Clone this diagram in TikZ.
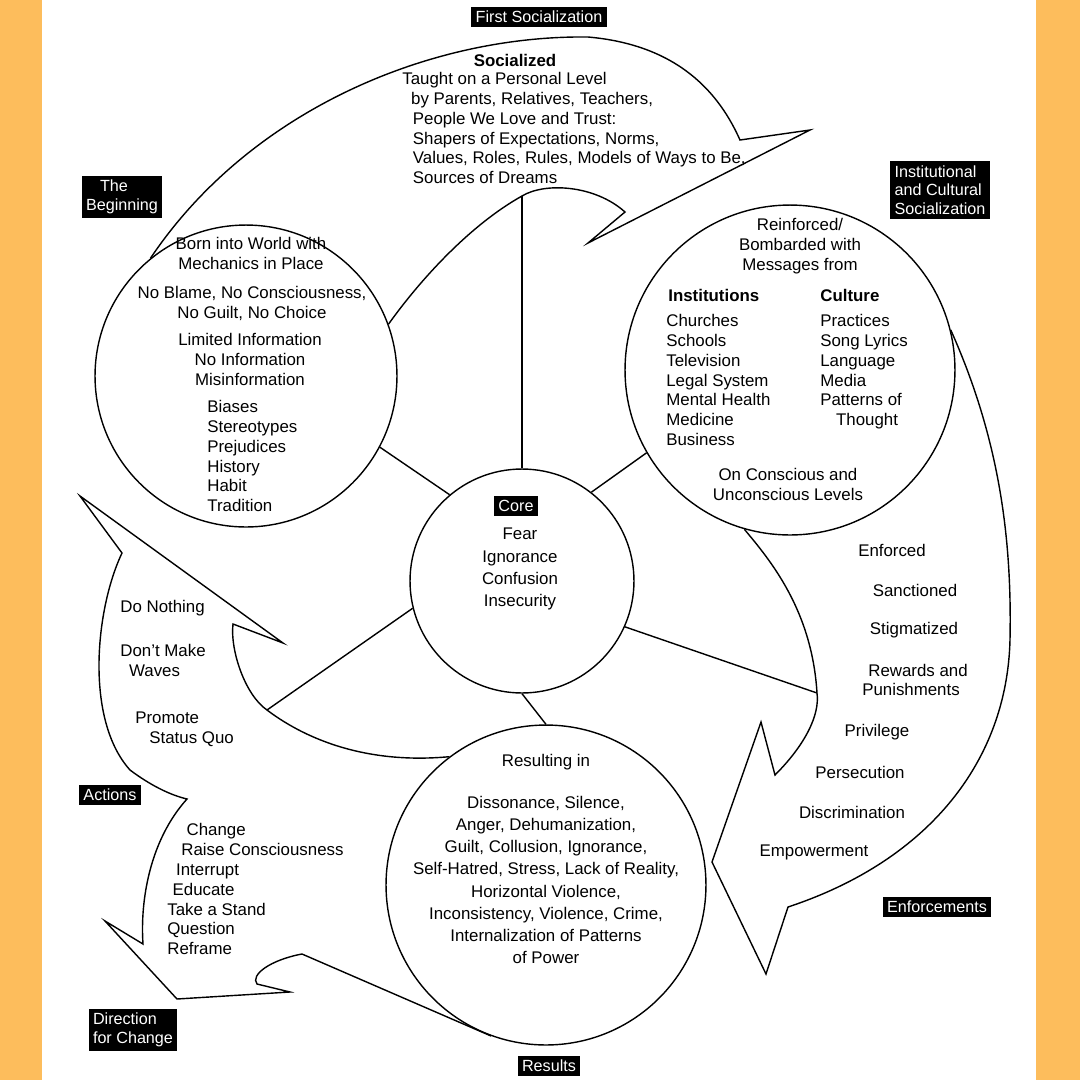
\documentclass[tikz,border=0pt]{standalone}
\usepackage{fontspec}
\setmainfont{Liberation Sans}
\definecolor{framebg}{HTML}{FDBD5C}
\tikzset{
  ring/.style={draw, circle, line width=0.8pt, inner sep=0pt},
  swirl/.style={draw, line width=0.8pt, line join=miter},
  spoke/.style={draw, line width=0.8pt},
  tag/.style={fill=black, text=white, inner sep=2.5pt, align=left, font=\fontsize{9.2}{10.6}\selectfont},
  txt/.style={inner sep=0pt, font=\fontsize{9.6}{11.3}\selectfont},
  widetxt/.style={inner sep=0pt, font=\fontsize{9.6}{12.6}\selectfont}
}
\begin{document}
\begin{tikzpicture}[x=0.02cm, y=-0.02cm]
        \useasboundingbox (0,0) rectangle (1080,1080);
        \fill[framebg] (0,0) rectangle (1080,1080);
        \fill[white] (42,0) rectangle (1036,1080);

        % circles
        \node[ring, minimum size=6.04cm] (lc) at (246,376) {};
        \node[ring, minimum size=6.6cm] (rc) at (790,370) {};
        \node[ring, minimum size=4.48cm] (core) at (522,581) {};
        \node[ring, minimum size=6.4cm] (bc) at (546,885) {};

        \coordinate (topin) at (522,196);
        \coordinate (enfin) at (817,693);
        \coordinate (actin) at (267,710);

        % big arrows
        \draw[swirl] (lc.129) .. controls (250,110) and (430,35) .. (588,37)
          .. controls (680,45) and (720,95) .. (740,140) -- (810,130) -- (588,243) -- (625,212)
          .. controls (595,185) and (545,182) .. (topin)
          .. controls (470,225) and (420,280) .. (lc.20);
        \draw[swirl] (rc.14) .. controls (1000,440) and (1012,540) .. (1010,640)
          .. controls (1007,760) and (930,860) .. (788,907) -- (766,974) -- (712,862) -- (761,722) -- (775,775)
          .. controls (805,745) and (820,715) .. (enfin)
          .. controls (812,610) and (770,560) .. (rc.-106);
        \draw[swirl] (bc.127) .. controls (360,765) and (300,735) .. (actin)
          .. controls (245,695) and (230,650) .. (233,624) -- (283,643) -- (80,496) -- (122,553)
          .. controls (95,610) and (85,720) .. (130,770) .. controls (150,785) and (170,795) .. (187,799)
          .. controls (150,840) and (140,900) .. (143,944) -- (105,921) -- (177,999) -- (290,992) -- (257,984)
          .. controls (250,975) and (270,960) .. (302,954) -- (bc.-110);

        % spokes
        \draw[spoke] (core.90) -- (topin);
        \draw[spoke] (core.130) -- (lc.-28);
        \draw[spoke] (core.52) -- (rc.-150);
        \draw[spoke] (core.194) -- (actin);
        \draw[spoke] (core.-24) -- (enfin);
        \draw[spoke] (core.-90) -- (bc.90);

        % tags
        \node[tag] (tfirst) at (539,17) {First Socialization};
        \node[tag] (tbegin) at (122,197) {\hspace*{8pt}The\\Beginning};
        \node[tag] (tinst) at (940,190) {Institutional\\and Cultural\\Socialization};
        \node[tag] (tcore) at (516,506) {Core};
        \node[tag] (tact) at (110,795) {Actions};
        \node[tag] (tenf) at (937,907) {Enforcements};
        \node[tag] (tdir) at (133,1030) {Direction\\for Change};
        \node[tag] (tres) at (549,1066) {Results};

        % first socialization
        \node[txt, font=\fontsize{9.6}{11.3}\selectfont\bfseries] (soc) at (515,60) {Socialized};
        \node[txt, anchor=north west, align=left] (socl) at (402,72) {Taught on a Personal Level\\
          \hspace*{5pt}by Parents, Relatives, Teachers,\\ \hspace*{6pt}People We Love and Trust:\\
          \hspace*{6pt}Shapers of Expectations, Norms,\\ \hspace*{6pt}Values, Roles, Rules, Models of Ways to Be,\\
          \hspace*{6pt}Sources of Dreams};

        % beginning
        \node[txt, anchor=north, align=center] (born) at (251,237) {Born into World with\\Mechanics in Place};
        \node[txt, anchor=north, align=center] (blame) at (252,286) {No Blame, No Consciousness,\\No Guilt, No Choice};
        \node[txt, anchor=north, align=center] (info) at (250,333) {Limited Information\\No Information\\Misinformation};
        \node[txt, anchor=north west, align=left] (bias) at (207,400) {Biases\\Stereotypes\\Prejudices\\History\\Habit\\Tradition};

        % institutional and cultural
        \node[txt, anchor=north, align=center] (reinf) at (800,218) {Reinforced/\\Bombarded with\\Messages from};
        \node[txt, anchor=north west, font=\fontsize{9.6}{11.3}\selectfont\bfseries] (insth) at (668,289) {Institutions};
        \node[txt, anchor=north west, align=left] (instl) at (666,314) {Churches\\Schools\\Television\\Legal System\\Mental Health\\Medicine\\Business};
        \node[txt, anchor=north west, font=\fontsize{9.6}{11.3}\selectfont\bfseries] (culth) at (820,289) {Culture};
        \node[txt, anchor=north west, align=left] (cultl) at (820,314) {Practices\\Song Lyrics\\Language\\Media\\Patterns of\\\hspace*{9pt}Thought};
        \node[txt, anchor=north, align=center] (levels) at (788,468) {On Conscious and\\Unconscious Levels};

        % core
        \node[widetxt, anchor=north, align=center] (fear) at (520,528) {Fear\\Ignorance\\Confusion\\Insecurity};

        % enforcements
        \node[txt] (e1) at (892,550) {Enforced};
        \node[txt] (e2) at (915,590) {Sanctioned};
        \node[txt] (e3) at (914,630) {Stigmatized};
        \node[txt, align=center] (e4) at (911,680) {\hspace*{8pt}Rewards and\\Punishments};
        \node[txt] (e5) at (877,732) {Privilege};
        \node[txt] (e6) at (860,772) {Persecution};
        \node[txt] (e7) at (852,812) {Discrimination};
        \node[txt] (e8) at (814,852) {Empowerment};

        % results
        \node[txt] (resin) at (546,762) {Resulting in};
        \node[widetxt, anchor=north, align=center] (resl) at (546,796) {Dissonance, Silence,\\Anger, Dehumanization,\\
          Guilt, Collusion, Ignorance,\\Self-Hatred, Stress, Lack of Reality,\\Horizontal Violence,\\
          Inconsistency, Violence, Crime,\\Internalization of Patterns\\of Power};

        % actions
        \node[txt, anchor=west] (a1) at (120,608) {Do Nothing};
        \node[txt, anchor=north west, align=left] (a2) at (120,644) {Don't Make\\\hspace*{5pt}Waves};
        \node[txt, anchor=north west, align=left] (a3) at (135,712) {Promote\\\hspace*{8pt}Status Quo};

        % direction for change
        \node[txt, anchor=north west, align=left] (chg) at (167,823) {\hspace*{11pt}Change\\\hspace*{8pt}Raise Consciousness\\
          \hspace*{5pt}Interrupt\\\hspace*{3pt}Educate\\Take a Stand\\Question\\Reframe};
\end{tikzpicture}
\end{document}
